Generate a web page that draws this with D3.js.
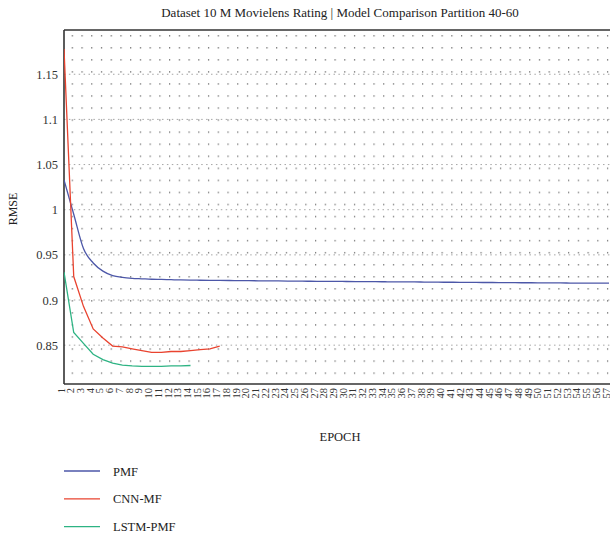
<!DOCTYPE html>
<html><head><meta charset="utf-8">
<script src="https://cdn.jsdelivr.net/npm/d3@7"></script>
<style>body{margin:0;background:#fff;}svg{display:block;} text{font-family:"Liberation Serif","DejaVu Serif",serif;}</style>
</head><body>
<script>
const title = "Dataset 10 M Movielens Rating | Model Comparison Partition 40-60";
const epochs = d3.range(1, 58);
const yTicks = [0.85, 0.9, 0.95, 1, 1.05, 1.1, 1.15];
const seriesNames = ["PMF", "CNN-MF", "LSTM-PMF"];
const colors = ["#4c57a8", "#e9432f", "#2db383"];
const pmf = [1.033,0.995,0.957,0.941,0.932,0.927,0.925,0.924,0.9235,0.923,
  0.9228,0.9225,0.9222,0.922,0.9219,0.9218,0.9217,0.9216,0.9215,0.9214,
  0.9213,0.9212,0.9211,0.921,0.9209,0.9208,0.9207,0.9207,0.9206,0.9205,
  0.9204,0.9203,0.9203,0.9202,0.9201,0.92,0.92,0.9199,0.9198,0.9197,
  0.9197,0.9196,0.9195,0.9194,0.9194,0.9193,0.9192,0.9191,0.9191,0.919,
  0.9189,0.9189,0.9188,0.9187,0.9187,0.9186,0.9186];
const cnn = [1.178,0.926,0.893,0.868,0.858,0.849,0.848,0.846,0.844,0.842,
  0.842,0.843,0.843,0.844,0.845,0.846,0.849];
const lstm = [0.931,0.864,0.852,0.840,0.834,0.830,0.828,0.827,0.8265,0.8265,
  0.8265,0.827,0.827,0.8275];
const seriesValues = [pmf, cnn, lstm];

const FONT = "Liberation Serif";
const W = 610, H = 538;
const m = {l:64, t:30, r:610, b:384};
const svg = d3.select("body").append("svg").attr("width", W).attr("height", H);

const x = d3.scalePoint().domain(epochs).range([m.l, 609]);
const y = d3.scaleLinear().domain([0.807, 1.199]).range([m.b, m.t]);

// dotted pattern background
const defs = svg.append("defs");
const pat = defs.append("pattern").attr("id","dots").attr("patternUnits","userSpaceOnUse")
  .attr("x", m.l + 7.7).attr("y", m.t + 5).attr("width", x.step()).attr("height", 12.05);
pat.append("rect").attr("x",0).attr("y",0).attr("width",1.2).attr("height",1.5).attr("fill","#7a7a7a");
svg.append("rect").attr("x", m.l+1).attr("y", m.t+1).attr("width", m.r-m.l).attr("height", m.b-m.t-2)
  .attr("fill","url(#dots)");

// major dashed gridlines
svg.append("g").selectAll("line").data(yTicks).join("line")
  .attr("x1", m.l).attr("x2", m.r).attr("y1", d=>y(d)).attr("y2", d=>y(d))
  .attr("stroke","#8f8f8f").attr("stroke-width",0.8).attr("stroke-dasharray","1.5,3.4");

// axes
const yAxis = svg.append("g").attr("transform",`translate(${m.l},0)`)
  .call(d3.axisLeft(y).tickValues(yTicks).tickSize(0).tickPadding(6).tickFormat(d=>String(d)));
yAxis.attr("font-family", FONT);
yAxis.select(".domain").remove();
yAxis.selectAll("text").attr("font-size",12.5).attr("fill","#333").attr("font-family",FONT);

const xAxis = svg.append("g").attr("transform",`translate(0,${m.b})`)
  .call(d3.axisBottom(x).tickSize(0).tickPadding(4));
xAxis.attr("font-family", FONT);
xAxis.select(".domain").remove();
xAxis.selectAll("text").attr("font-size",10.5).attr("fill","#333").attr("font-family",FONT)
  .attr("text-anchor","end").attr("transform","rotate(-90)").attr("x",-4).attr("y",0).attr("dy","0");

// frame
svg.append("line").attr("x1",m.l).attr("x2",m.l).attr("y1",m.t).attr("y2",m.b).attr("stroke","#333").attr("stroke-width",1.6);
svg.append("line").attr("x1",m.l).attr("x2",W).attr("y1",m.t).attr("y2",m.t).attr("stroke","#333").attr("stroke-width",1.6);
svg.append("line").attr("x1",m.l).attr("x2",W).attr("y1",m.b).attr("y2",m.b).attr("stroke","#333").attr("stroke-width",1.6);

// lines
defs.append("clipPath").attr("id","clip").append("rect")
  .attr("x",m.l).attr("y",m.t).attr("width",m.r-m.l).attr("height",m.b-m.t);
const curves = [d3.curveMonotoneX, d3.curveLinear, d3.curveLinear];
seriesValues.forEach((vals,i)=>{
  const line = d3.line().x((d,j)=>x(epochs[j])).y(d=>y(d)).curve(curves[i]);
  svg.append("path").datum(vals).attr("d",line).attr("fill","none")
    .attr("stroke",colors[i]).attr("stroke-width",1.3).attr("clip-path","url(#clip)");
});

// title & axis labels
svg.append("text").attr("x",340).attr("y",17).attr("text-anchor","middle").attr("font-size",13)
  .attr("font-family",FONT).attr("fill","#222").text(title);
svg.append("text").attr("transform",`translate(17,209) rotate(-90)`).attr("text-anchor","middle")
  .attr("font-family",FONT).attr("font-size",12).attr("fill","#222").text("RMSE");
svg.append("text").attr("x",340).attr("y",441).attr("text-anchor","middle").attr("font-size",12.5)
  .attr("font-family",FONT).attr("fill","#222").text("EPOCH");

// legend
const leg = svg.append("g").selectAll("g").data(seriesNames).join("g")
  .attr("transform",(d,i)=>`translate(64,${471 + i*27.8})`);
leg.append("line").attr("x1",0).attr("x2",36).attr("stroke",(d,i)=>colors[i]).attr("stroke-width",1.3);
leg.append("text").attr("x",49).attr("y",4.5).attr("font-size",12.5).attr("font-family",FONT)
  .attr("fill","#222").text(d=>d);
</script>
</body></html>
